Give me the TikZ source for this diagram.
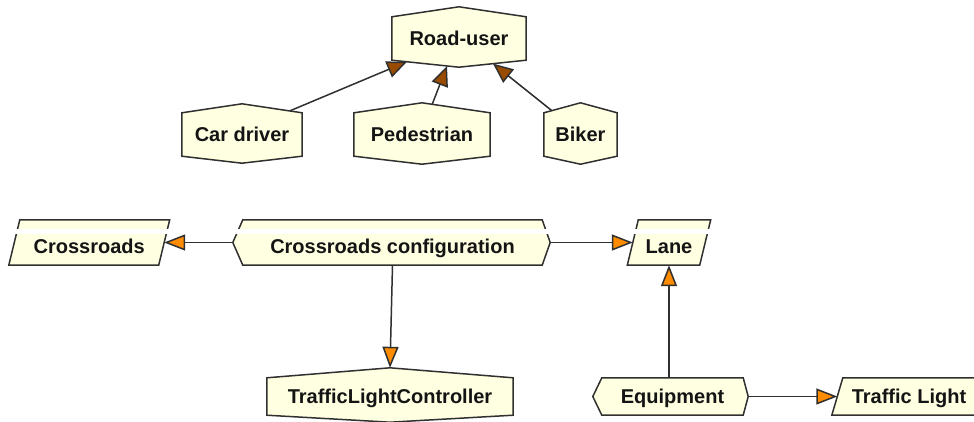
\documentclass[tikz,border=0pt]{standalone}
\usepackage{fontspec}
\setmainfont{Liberation Sans}
\usetikzlibrary{calc,backgrounds,arrows.meta}

\definecolor{shapefill}{RGB}{255,255,225}
\definecolor{edgegray}{RGB}{48,48,48}
\definecolor{tiporange}{RGB}{255,140,0}
\definecolor{tipbrown}{RGB}{153,76,0}

% hexagon-like outline with a shallow peak on top and bottom
\newcommand\drawpeak[3]{%
  \filldraw[outline] (#1.north west) -- ($(#1.north)+(0,-#2)$) -- (#1.north east)
    -- (#1.south east) -- ($(#1.south)+(0,#3)$) -- (#1.south west) -- cycle;}
% box with pointed left and right ends
\newcommand\drawsignal[3]{%
  \filldraw[outline] (#1.north west) -- (#1.north east) -- ($(#1.east)+(#3,0)$)
    -- (#1.south east) -- (#1.south west) -- ($(#1.west)+(-#2,0)$) -- cycle;}
% parallelogram leaning to the right
\newcommand\drawslant[2]{%
  \filldraw[outline] ($(#1.north west)+(#2,0)$) -- ($(#1.north east)+(#2,0)$)
    -- ($(#1.south east)+(-#2,0)$) -- ($(#1.south west)+(-#2,0)$) -- cycle;}
% white band separating the header strip
\newcommand\cutband[1]{%
  \fill[white] ($(#1.north west)+(-20,9.5)$) rectangle ($(#1.north east)+(20,14)$);}

\begin{document}
\begin{tikzpicture}[x=1pt,y=-1pt,
  box/.style={inner sep=0pt, font=\bfseries\fontsize{20}{24}\selectfont,
    text=black!92, text height=14.3pt, text depth=0pt},
  banded/.style={text height=21.3pt},
  outline/.style={draw=edgegray, fill=shapefill, line width=1.5pt, line join=miter},
  assoc/.style={draw=edgegray, line width=1.5pt,
    -{Triangle[length=21pt,width=16pt,fill=tiporange]}},
  isa/.style={draw=edgegray, line width=1.5pt,
    -{Triangle[length=20pt,width=17pt,fill=tipbrown]}},
]
\useasboundingbox (0,0) rectangle (974,421);

% road users
\node[box, minimum width=134pt, minimum height=43pt] (road) at (459,38.5) {Road-user};
\node[box, minimum width=120pt, minimum height=43pt] (car) at (242,134.5) {Car driver};
\node[box, minimum width=136pt, minimum height=43pt] (ped) at (422,134.5) {Pedestrian};
\node[box, minimum width=73pt, minimum height=43pt] (bike) at (580.5,134.5) {Biker};

% crossroads
\node[box, banded, minimum width=149.5pt, minimum height=45pt] (cross) at (89.25,242.5) {Crossroads};
\node[box, banded, minimum width=299pt, minimum height=45pt] (conf) at (392.5,242.5) {Crossroads configuration};
\node[box, banded, minimum width=72pt, minimum height=45pt] (lane) at (669,242.5) {Lane};

% equipment
\node[box, minimum width=246pt, minimum height=37pt] (ctrl) at (390,396.5) {TrafficLightController};
\node[box, minimum width=141pt, minimum height=37pt] (equip) at (672.5,396.5) {Equipment};
\node[box, minimum width=143pt, minimum height=37pt] (light) at (909,396.5) {Traffic Light};

\begin{scope}[on background layer]
  \drawpeak{road}{10}{7}
  \drawpeak{car}{9}{7}
  \drawpeak{ped}{10}{8}
  \drawpeak{bike}{10}{8}
  \drawslant{cross}{5.5}
  \drawsignal{conf}{10}{8}
  \drawslant{lane}{5.5}
  \cutband{cross}
  \cutband{conf}
  \cutband{lane}
  \drawpeak{ctrl}{10}{7}
  \drawsignal{equip}{9}{5}
  \drawslant{light}{5.5}
\end{scope}

% generalisations
\draw[isa] ($(car.north)+(48,-2)$) -- ($(road.south)+(-52,1.5)$);
\draw[isa] ($(ped.north)+(10,-8)$) -- ($(road.south)+(-12,5.8)$);
\draw[isa] ($(bike.north)+(-28.5,-2)$) -- ($(road.south)+(34,3.4)$);

% associations
\draw[assoc] ($(conf.west)+(-10,0)$) -- (cross.east);
\draw[assoc] ($(conf.east)+(8,0)$) -- (lane.west);
\draw[assoc] (conf.south) -- ($(ctrl.north)+(0,-10)$);
\draw[assoc] (equip.north -| lane.south) -- (lane.south);
\draw[assoc] ($(equip.east)+(5,0)$) -- (light.west);
\end{tikzpicture}
\end{document}
